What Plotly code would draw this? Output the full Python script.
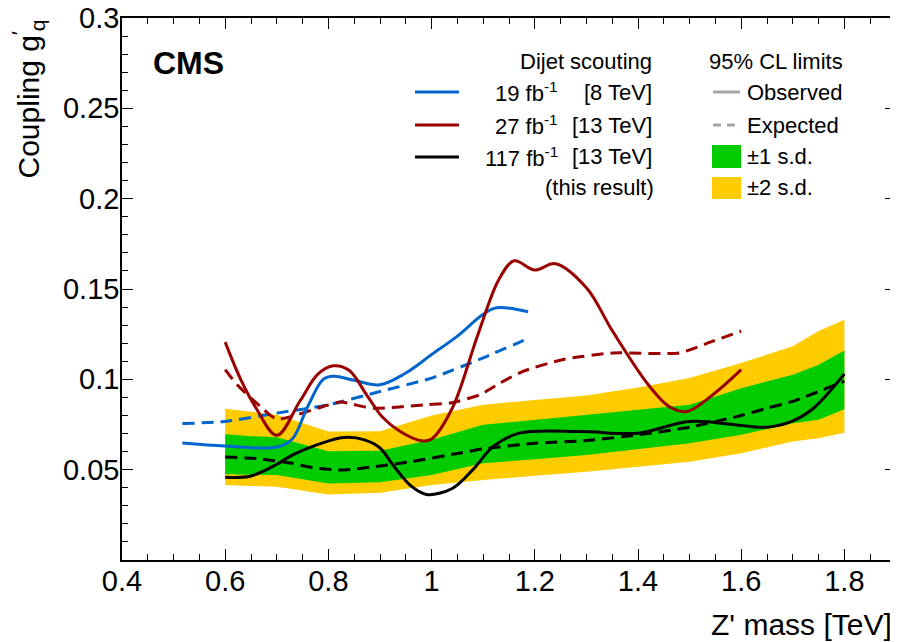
import plotly.graph_objects as go

# ---------------- data ----------------
band_x = [0.6, 0.65, 0.7, 0.8, 0.9, 1.0, 1.1, 1.2, 1.3, 1.4, 1.5, 1.6, 1.7, 1.75, 1.8]
two_sd_up = [0.0837, 0.0820, 0.0804, 0.0711, 0.0712, 0.0800, 0.0859, 0.0885, 0.0911, 0.0955, 0.1007, 0.1090, 0.1183, 0.1267, 0.1330]
one_sd_up = [0.0696, 0.0685, 0.0680, 0.0602, 0.0605, 0.0665, 0.0748, 0.0776, 0.0804, 0.0830, 0.0859, 0.0950, 0.1026, 0.1081, 0.1160]
one_sd_dn = [0.0474, 0.0472, 0.0470, 0.0424, 0.0430, 0.0470, 0.0535, 0.0558, 0.0581, 0.0612, 0.0646, 0.0693, 0.0757, 0.0776, 0.0835]
two_sd_dn = [0.0415, 0.0410, 0.0406, 0.0363, 0.0372, 0.0415, 0.0443, 0.0466, 0.0489, 0.0516, 0.0544, 0.0591, 0.0656, 0.0674, 0.0705]

exp117_x = [0.6, 0.67, 0.73, 0.77, 0.83, 0.89, 0.96, 1.05, 1.1, 1.2, 1.3, 1.4, 1.5, 1.6, 1.65, 1.7, 1.8]
exp117_y = [0.0570, 0.0559, 0.0535, 0.0511, 0.0498, 0.0517, 0.0544, 0.0590, 0.0615, 0.0646, 0.0661, 0.0693, 0.0735, 0.0800, 0.0840, 0.0878, 0.0990]

obs117_x = [0.6, 0.65, 0.7, 0.73, 0.78, 0.83, 0.87, 0.9, 0.925, 0.96, 0.99, 1.04, 1.08, 1.12, 1.17, 1.29, 1.4, 1.5, 1.6, 1.65, 1.7, 1.74, 1.8]
obs117_y = [0.0458, 0.0465, 0.0530, 0.0580, 0.0640, 0.0678, 0.0665, 0.0620, 0.0526, 0.0410, 0.0363, 0.0396, 0.0500, 0.0630, 0.0702, 0.0711, 0.0702, 0.0767, 0.0745, 0.0735, 0.0770, 0.0840, 0.1030]

obs27_x = [0.6, 0.63, 0.66, 0.70, 0.745, 0.78, 0.81, 0.84, 0.875, 0.905, 0.94, 0.98, 1.0, 1.04, 1.09, 1.13, 1.16, 1.20, 1.24, 1.30, 1.35, 1.42, 1.46, 1.495, 1.545, 1.6]
obs27_y = [0.1206, 0.1000, 0.0840, 0.0690, 0.0880, 0.1030, 0.1075, 0.1050, 0.0910, 0.0790, 0.0710, 0.0660, 0.0670, 0.0840, 0.1250, 0.1550, 0.1656, 0.1605, 0.1640, 0.1507, 0.1270, 0.0970, 0.0850, 0.0822, 0.0915, 0.1054]

exp27_x = [0.6, 0.623, 0.668, 0.70, 0.79, 0.823, 0.887, 0.99, 1.036, 1.094, 1.133, 1.177, 1.255, 1.352, 1.48, 1.545, 1.6]
exp27_y = [0.1054, 0.0970, 0.0850, 0.0780, 0.0850, 0.0874, 0.0840, 0.0860, 0.0869, 0.0915, 0.0980, 0.1044, 0.1110, 0.1146, 0.1146, 0.1211, 0.1267]

obs19_x = [0.517, 0.6, 0.7, 0.73, 0.76, 0.79, 0.81, 0.85, 0.9, 0.95, 1.0, 1.05, 1.1, 1.126, 1.187]
obs19_y = [0.0648, 0.0631, 0.0625, 0.0670, 0.0850, 0.1000, 0.1017, 0.0995, 0.0970, 0.1035, 0.1137, 0.1239, 0.1360, 0.1396, 0.1374]

exp19_x = [0.517, 0.6, 0.7, 0.8, 0.9, 1.0, 1.1, 1.19]
exp19_y = [0.0755, 0.0767, 0.0813, 0.0859, 0.0933, 0.1007, 0.1119, 0.1230]

x_ticks = [0.4, 0.6, 0.8, 1.0, 1.2, 1.4, 1.6, 1.8]
x_ticktext = ["0.4", "0.6", "0.8", "1", "1.2", "1.4", "1.6", "1.8"]
y_ticks = [0.05, 0.1, 0.15, 0.2, 0.25, 0.3]
y_ticktext = ["0.05", "0.1", "0.15", "0.2", "0.25", "0.3"]

# ---------------- style ----------------
BLUE = "#0066cc"
RED = "#990000"
BLACK = "#000000"
GREEN = "#00cc00"
YELLOW = "#ffcc00"
GREY = "#a6a6a6"
FONT = "Liberation Sans, Arial, sans-serif"

OFF = 8  # page body margin
W, H = 898 - OFF, 642 - OFF
L, R, T, B = 122 - OFF, 2, 18 - OFF, 82
PW, PH = W - L - R, H - T - B

def fx(px):
    return (px - OFF - L) / PW

def fy(py):
    return (H - B - (py - OFF)) / PH

fig = go.Figure()

fig.add_trace(go.Scatter(x=band_x + band_x[::-1], y=two_sd_up + two_sd_dn[::-1],
                         fill="toself", fillcolor=YELLOW, line=dict(width=0), mode="lines",
                         hoverinfo="skip"))
fig.add_trace(go.Scatter(x=band_x + band_x[::-1], y=one_sd_up + one_sd_dn[::-1],
                         fill="toself", fillcolor=GREEN, line=dict(width=0), mode="lines",
                         hoverinfo="skip"))

def line(xs, ys, color, dash=None, smooth=1.0):
    fig.add_trace(go.Scatter(x=xs, y=ys, mode="lines",
                             line=dict(color=color, width=3, dash=dash or "solid",
                                       shape="spline", smoothing=smooth)))

line(exp19_x, exp19_y, BLUE, "12px,7px", 0.6)
line(exp27_x, exp27_y, RED, "12px,7px", 0.6)
line(exp117_x, exp117_y, BLACK, "12px,7px", 0.6)
line(obs19_x, obs19_y, BLUE)
line(obs27_x, obs27_y, RED)
line(obs117_x, obs117_y, BLACK)

# ---------------- legend (drawn) ----------------
shapes = []
ann = []
LSIZE = 22

def txt(px, py, s, anchor="left", size=LSIZE, bold=False):
    ann.append(dict(x=fx(px), y=fy(py), xref="paper", yref="paper", text=("<b>%s</b>" % s) if bold else s,
                    showarrow=False, xanchor=anchor, yanchor="middle",
                    font=dict(family=FONT, size=size, color="black")))

def seg(x0, x1, py, color, dash="solid"):
    shapes.append(dict(type="line", xref="paper", yref="paper", x0=fx(x0), x1=fx(x1), y0=fy(py), y1=fy(py),
                       line=dict(color=color, width=3, dash=dash)))

def box(x0, x1, y0, y1, color):
    shapes.append(dict(type="rect", xref="paper", yref="paper", x0=fx(x0), x1=fx(x1), y0=fy(y1), y1=fy(y0),
                       fillcolor=color, line=dict(width=0)))

txt(654, 61, "Dijet scouting", "right")
seg(415, 459, 92, BLUE)
txt(560, 92, "19 fb<sup>-1</sup>", "right")
txt(654, 92, "[8 TeV]", "right")
seg(415, 459, 125, RED)
txt(560, 125, "27 fb<sup>-1</sup>", "right")
txt(654, 125, "[13 TeV]", "right")
seg(415, 459, 157, BLACK)
txt(560, 157, "117 fb<sup>-1</sup>", "right")
txt(654, 157, "[13 TeV]", "right")
txt(656, 188, "(this result)", "right")

txt(707, 61, "95% CL limits", "left")
seg(713, 740, 92, GREY)
txt(745, 92, "Observed", "left")
seg(713, 740, 125, GREY, "8px,6px")
txt(745, 125, "Expected", "left")
box(712, 741, 145, 168, GREEN)
txt(745, 156, "±1 s.d.", "left")
box(712, 741, 177, 199, YELLOW)
txt(745, 188, "±2 s.d.", "left")

txt(151, 63, "CMS", "left", size=32, bold=True)

# axis titles
ann.append(dict(x=fx(894), y=fy(624), xref="paper", yref="paper", text="Z' mass [TeV]",
                showarrow=False, xanchor="right", yanchor="middle",
                font=dict(family=FONT, size=30, color="black")))
ann.append(dict(x=fx(28), y=fy(18), xref="paper", yref="paper",
                text="Coupling g<sup>′</sup><sub>q</sub>", textangle=-90,
                showarrow=False, xanchor="center", yanchor="top",
                font=dict(family=FONT, size=30, color="black")))

axis_common = dict(showline=True, linecolor="black", linewidth=1.5, mirror="allticks",
                   ticks="inside", ticklen=11, tickwidth=1.2, tickcolor="black",
                   showgrid=False, zeroline=False, ticklabeloverflow="allow", automargin=False,
                   tickfont=dict(family=FONT, size=29, color="black"))

fig.update_layout(
    width=W, height=H,
    margin=dict(l=L, r=R, t=T, b=B),
    paper_bgcolor="white", plot_bgcolor="white",
    showlegend=False, hovermode=False,
    shapes=shapes, annotations=ann,
    xaxis=dict(range=[0.4, 1.9], tickmode="array", tickvals=x_ticks, ticktext=x_ticktext,
               ticklabelstandoff=-6,
               minor=dict(ticks="inside", dtick=0.05, tick0=0.4, ticklen=6, tickwidth=1.2, tickcolor="black"),
               **axis_common),
    yaxis=dict(range=[0, 0.3], tickmode="array", tickvals=y_ticks, ticktext=y_ticktext,
               ticklabelstandoff=-5,
               minor=dict(ticks="inside", dtick=0.01, tick0=0, ticklen=6, tickwidth=1.2, tickcolor="black"),
               **axis_common),
)

fig.write_html("out.html")
